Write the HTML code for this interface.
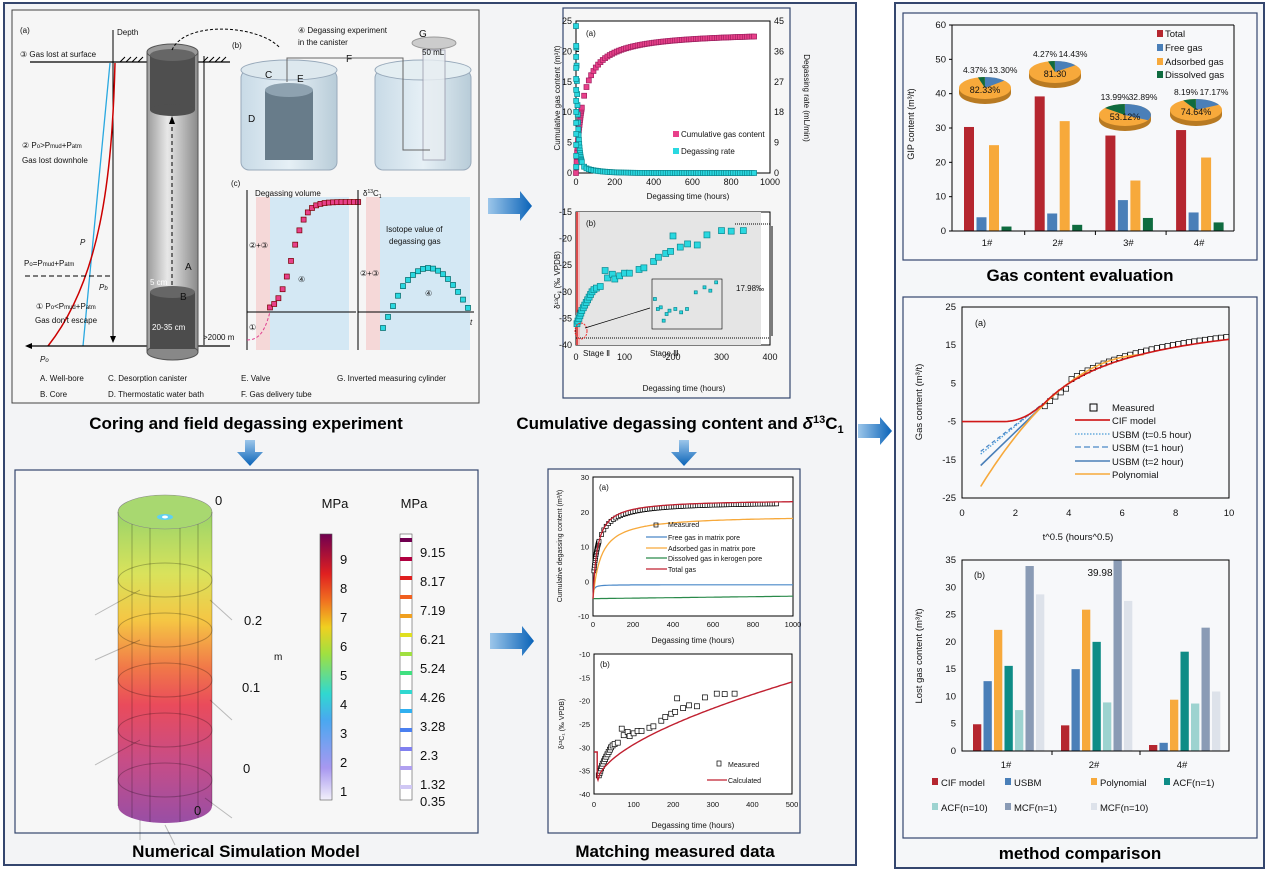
<!DOCTYPE html>
<html><head><meta charset="utf-8">
<style>
html,body{margin:0;padding:0;background:#fff;}
svg{display:block;font-family:"Liberation Sans",sans-serif;}
.t{font-size:10px;fill:#111;}
.s{font-size:8px;fill:#111;}
.ttl{font-size:17px;font-weight:bold;fill:#000;}
</style></head><body>
<svg id="g" width="1268" height="873" viewBox="0 0 1268 873" xmlns="http://www.w3.org/2000/svg">
<defs>
<linearGradient id="ba" x1="0" x2="1"><stop offset="0" stop-color="#9cc6ea"/><stop offset="1" stop-color="#0a63b8"/></linearGradient>
<linearGradient id="bd" x1="0" y1="0" x2="0" y2="1"><stop offset="0" stop-color="#9cc6ea"/><stop offset="1" stop-color="#0a63b8"/></linearGradient>
<linearGradient id="cyl" x1="0" y1="0" x2="0" y2="1">
<stop offset="0" stop-color="#8fd05a"/><stop offset="0.2" stop-color="#d6e04a"/><stop offset="0.35" stop-color="#f5c030"/><stop offset="0.5" stop-color="#f06a35"/><stop offset="0.62" stop-color="#e8384a"/><stop offset="0.8" stop-color="#c23a7a"/><stop offset="1" stop-color="#8e3c9c"/></linearGradient>
<linearGradient id="cb1" x1="0" y1="1" x2="0" y2="0">
<stop offset="0" stop-color="#f2f0fa"/><stop offset="0.12" stop-color="#a898f0"/><stop offset="0.3" stop-color="#4aa8f0"/><stop offset="0.4" stop-color="#30d8d0"/><stop offset="0.55" stop-color="#a0e040"/><stop offset="0.65" stop-color="#f0d020"/><stop offset="0.75" stop-color="#f07020"/><stop offset="0.85" stop-color="#e02020"/><stop offset="1" stop-color="#700050"/></linearGradient>
<linearGradient id="wb" x1="0" x2="1"><stop offset="0" stop-color="#9a9a9a"/><stop offset="0.4" stop-color="#e8e8e8"/><stop offset="1" stop-color="#8a8a8a"/></linearGradient>
<linearGradient id="bk" x1="0" x2="1"><stop offset="0" stop-color="#c8dae6"/><stop offset="0.5" stop-color="#e6f0f6"/><stop offset="1" stop-color="#b8ccd8"/></linearGradient>
</defs>

<rect x="4" y="3" width="852" height="862" fill="#f3f4f6" stroke="#34466e" stroke-width="2"/>
<rect x="895" y="3" width="369" height="865" fill="#f5f7f9" stroke="#34466e" stroke-width="2"/>

<rect x="12" y="10" width="467" height="393" fill="#f6f6f6" stroke="#444" stroke-width="1"/>
<rect x="563" y="8" width="227" height="390" fill="#f6f6f6" stroke="#34466e" stroke-width="1.2"/>
<rect x="15" y="470" width="463" height="363" fill="#f7f7f7" stroke="#34466e" stroke-width="1.2"/>
<rect x="548" y="469" width="252" height="364" fill="#f7f7f7" stroke="#34466e" stroke-width="1.2"/>
<rect x="903" y="13" width="354" height="247" fill="#f7f8fa" stroke="#34466e" stroke-width="1.2"/>
<rect x="903" y="297" width="354" height="541" fill="#f7f8fa" stroke="#34466e" stroke-width="1.2"/>

<text class="ttl" x="246" y="429" text-anchor="middle">Coring and field degassing experiment</text>
<text class="ttl" x="680" y="429" text-anchor="middle">Cumulative degassing content and <tspan font-style="italic">δ</tspan><tspan font-size="11" dy="-6">13</tspan><tspan dy="6">C</tspan><tspan font-size="11" dy="4">1</tspan></text>
<text class="ttl" x="246" y="857" text-anchor="middle">Numerical Simulation Model</text>
<text class="ttl" x="675" y="857" text-anchor="middle">Matching measured data</text>
<text class="ttl" x="1080" y="281" text-anchor="middle">Gas content evaluation</text>
<text class="ttl" x="1080" y="859" text-anchor="middle">method comparison</text>

<polygon points="488,198 520,198 520,191 532,206 520,221 520,214 488,214" fill="url(#ba)"/>
<polygon points="490,633 522,633 522,626 534,641 522,656 522,649 490,649" fill="url(#ba)"/>
<polygon points="858,424 880,424 880,417 892,431 880,445 880,438 858,438" fill="url(#ba)"/>
<polygon points="245,440 255,440 255,452 263,452 250,466 237,452 245,452" fill="url(#bd)"/>
<polygon points="679,440 689,440 689,452 697,452 684,466 671,452 679,452" fill="url(#bd)"/>

<g id="tl">
<text class="s" x="20" y="33">(a)</text>
<text class="s" x="117" y="35">Depth</text>
<line x1="113" y1="30" x2="113" y2="340" stroke="#000"/>
<polygon points="110,336 116,336 113,343" fill="#000"/>
<line x1="30" y1="62" x2="230" y2="62" stroke="#000" stroke-width="1.2"/>
<path d="M120,62 l5,-5 M126,62 l5,-5 M132,62 l5,-5 M138,62 l5,-5 M203,62 l5,-5 M209,62 l5,-5 M215,62 l5,-5 M221,62 l5,-5" stroke="#000"/>
<text class="s" x="20" y="57">③ Gas lost at surface</text>
<line x1="110" y1="63" x2="83" y2="346" stroke="#29a8e0" stroke-width="1.3"/>
<path d="M115,63 C112,180 100,280 48,346" stroke="#c00" stroke-width="1.5" fill="none"/>
<text class="s" x="22" y="148">② P<tspan font-size="6">o</tspan>&gt;P<tspan font-size="6">mud</tspan>+P<tspan font-size="6">atm</tspan></text>
<text class="s" x="22" y="163">Gas lost downhole</text>
<text class="s" x="80" y="245" font-style="italic">P</text>
<text class="s" x="99" y="290" font-style="italic">P<tspan font-size="6">b</tspan></text>
<text class="s" x="24" y="266">P<tspan font-size="6">o</tspan>=P<tspan font-size="6">mud</tspan>+P<tspan font-size="6">atm</tspan></text>
<line x1="25" y1="276" x2="113" y2="276" stroke="#000" stroke-dasharray="5,3"/>
<text class="s" x="36" y="309">① P<tspan font-size="6">o</tspan>&lt;P<tspan font-size="6">mud</tspan>+P<tspan font-size="6">atm</tspan></text>
<text class="s" x="35" y="323">Gas don't escape</text>
<line x1="28" y1="346" x2="230" y2="346" stroke="#000" stroke-width="1.2"/>
<polygon points="25,346 32,343 32,349" fill="#000"/>
<text class="s" x="40" y="362" font-style="italic">P<tspan font-size="6">o</tspan></text>
<rect x="147" y="52" width="51" height="300" fill="url(#wb)" stroke="#555"/>
<ellipse cx="172.5" cy="52" rx="25.5" ry="8" fill="#999" stroke="#555"/>
<ellipse cx="172.5" cy="352" rx="25.5" ry="8" fill="#888" stroke="#555"/>
<rect x="150" y="55" width="45" height="55" fill="#4f4f4f"/>
<ellipse cx="172.5" cy="110" rx="22.5" ry="6" fill="#4f4f4f"/>
<ellipse cx="172.5" cy="55" rx="22.5" ry="6" fill="#666"/>
<rect x="150" y="292" width="45" height="57" fill="#4c4c4c"/>
<ellipse cx="172.5" cy="292" rx="22.5" ry="6" fill="#666"/>
<line x1="172" y1="285" x2="172" y2="120" stroke="#000" stroke-dasharray="4,3"/>
<polygon points="169,124 175,124 172,116" fill="#000"/>
<text class="t" x="185" y="270">A</text>
<text class="t" x="180" y="300">B</text>
<text class="s" x="150" y="285" style="fill:#fff">5 cm</text>
<text class="s" x="152" y="330" style="fill:#fff">20-35 cm</text>
<line x1="204" y1="56" x2="204" y2="345" stroke="#000"/>
<text class="s" x="203" y="340">&gt;2000 m</text>
<path d="M172,50 C185,20 260,25 280,48" stroke="#000" fill="none" stroke-dasharray="3,2"/>
<text class="s" x="232" y="48">(b)</text>
<text class="s" x="298" y="33">④ Degassing experiment</text>
<text class="s" x="298" y="45">in the canister</text>
<rect x="241" y="70" width="96" height="100" rx="8" fill="url(#bk)" stroke="#9ab"/>
<ellipse cx="289" cy="70" rx="48" ry="10" fill="#dde8ee" stroke="#9ab"/>
<rect x="265" y="90" width="48" height="70" fill="#687c8a"/>
<ellipse cx="289" cy="90" rx="24" ry="7" fill="#8ea2b0"/>
<text class="t" x="265" y="78">C</text><text class="t" x="297" y="82">E</text>
<text class="t" x="248" y="122">D</text><text class="t" x="346" y="62">F</text>
<rect x="375" y="70" width="96" height="100" rx="8" fill="url(#bk)" stroke="#9ab"/>
<ellipse cx="423" cy="70" rx="48" ry="10" fill="#e4eef2" stroke="#9ab"/>
<rect x="423" y="50" width="22" height="110" fill="#e8eef2" stroke="#99a" opacity="0.8"/>
<ellipse cx="434" cy="43" rx="22" ry="6" fill="#ccc" stroke="#999"/>
<text class="t" x="419" y="37">G</text>
<text class="s" x="422" y="55" font-size="7">50 mL</text>
<path d="M287,82 V58 H403 V150 H430" stroke="#666" fill="none"/>
<text class="s" x="231" y="186">(c)</text>
<rect x="256" y="197" width="14" height="153" fill="#f5d8d8"/>
<rect x="270" y="197" width="79" height="153" fill="#d4e8f4"/>
<line x1="247" y1="190" x2="247" y2="350" stroke="#000"/>
<line x1="247" y1="312" x2="356" y2="312" stroke="#000"/>
<text class="s" x="255" y="196">Degassing volume</text>
<text class="s" x="249" y="248">②+③</text><text class="s" x="298" y="282">④</text><text class="s" x="249" y="330">①</text>
<path d="M247,340 C260,340 265,330 270,312" stroke="#e04090" fill="none" stroke-dasharray="3,2"/>
<g id="cs1"></g>
<rect x="366" y="197" width="14" height="153" fill="#f5d8d8"/>
<rect x="380" y="197" width="90" height="153" fill="#d4e8f4"/>
<line x1="358" y1="190" x2="358" y2="350" stroke="#000"/>
<line x1="358" y1="312" x2="474" y2="312" stroke="#000"/>
<text class="s" x="363" y="196">δ<tspan font-size="5" dy="-3">13</tspan><tspan dy="3">C</tspan><tspan font-size="5" dy="2">1</tspan></text>
<text class="s" x="386" y="232">Isotope value of</text>
<text class="s" x="389" y="244">degassing gas</text>
<text class="s" x="360" y="276">②+③</text><text class="s" x="425" y="296">④</text>
<text class="s" x="470" y="325" font-style="italic">t</text>
<g id="cs2"></g>
<text class="s" x="40" y="381">A. Well-bore</text><text class="s" x="108" y="381">C. Desorption canister</text><text class="s" x="241" y="381">E. Valve</text><text class="s" x="337" y="381">G. Inverted measuring cylinder</text>
<text class="s" x="40" y="397">B. Core</text><text class="s" x="108" y="397">D. Thermostatic water bath</text><text class="s" x="241" y="397">F. Gas delivery tube</text>
</g>

<g id="tm">
<rect x="576" y="21" width="194" height="152" fill="#fff" stroke="#000"/>
<text class="s" x="586" y="36">(a)</text>
<g id="tma"></g>
<rect x="673" y="131" width="6" height="6" fill="#e8408a"/><text class="s" x="681" y="137">Cumulative gas content</text>
<rect x="673" y="148" width="6" height="6" fill="#2ad8e0"/><text class="s" x="681" y="154">Degassing rate</text>
<text class="s" x="688" y="199" text-anchor="middle" font-size="9">Degassing time (hours)</text>
<text class="s" x="560" y="98" transform="rotate(-90 560 98)" text-anchor="middle" font-size="8">Cumulative gas content (m³/t)</text>
<text class="s" x="804" y="98" transform="rotate(90 804 98)" text-anchor="middle" font-size="8">Degassing rate (mL/min)</text>

<rect x="576" y="212" width="194" height="133" fill="#fff" stroke="#000"/>
<rect x="580" y="212" width="181" height="133" fill="#e5e5e5"/>
<rect x="576" y="212" width="4" height="133" fill="#f0c0c0"/>
<line x1="577" y1="212" x2="577" y2="345" stroke="#c00" stroke-width="1.2"/>
<text class="s" x="586" y="226">(b)</text>
<line x1="576" y1="338" x2="770" y2="338" stroke="#000" stroke-dasharray="1,1"/>
<line x1="735" y1="224" x2="770" y2="224" stroke="#000" stroke-dasharray="1,1"/>
<line x1="772" y1="226" x2="772" y2="336" stroke="#000"/>
<text class="s" x="736" y="291">17.98‰</text>
<rect x="646" y="277" width="80" height="56" fill="#e5e5e5"/>
<g id="tmb"></g>
<text class="s" x="583" y="356">Stage Ⅱ</text><text class="s" x="650" y="356">Stage Ⅲ</text>
<text class="s" x="684" y="391" text-anchor="middle" font-size="9">Degassing time (hours)</text>
<text class="s" x="560" y="280" transform="rotate(-90 560 280)" text-anchor="middle" font-size="8">δ¹³C₁ (‰ VPDB)</text>
</g>

<g id="bl">
<path d="M118,512 L118,806 A47,17 0 0 0 212,806 L212,512 Z" fill="url(#cyl)" opacity="0.9"/>
<ellipse cx="165" cy="512" rx="47" ry="17" fill="#a8d870" stroke="#888" stroke-width="0.6"/>
<ellipse cx="165" cy="517" rx="8" ry="3" fill="#60d0f0"/><ellipse cx="165" cy="517" rx="3" ry="1.5" fill="#fff"/>
<g stroke="#000" stroke-opacity="0.25" fill="none">
<line x1="118" y1="512" x2="118" y2="806"/><line x1="212" y1="512" x2="212" y2="806"/>
<line x1="132" y1="524" x2="132" y2="818"/><line x1="150" y1="528" x2="150" y2="822"/><line x1="180" y1="528" x2="180" y2="822"/><line x1="198" y1="524" x2="198" y2="818"/>
<ellipse cx="165" cy="580" rx="47" ry="17"/><ellipse cx="165" cy="630" rx="47" ry="17"/><ellipse cx="165" cy="680" rx="47" ry="17"/><ellipse cx="165" cy="730" rx="47" ry="17"/><ellipse cx="165" cy="780" rx="47" ry="17"/>
<line x1="95" y1="660" x2="140" y2="640"/><line x1="95" y1="765" x2="140" y2="740"/><line x1="95" y1="615" x2="140" y2="590"/>
<line x1="210" y1="600" x2="232" y2="620"/><line x1="210" y1="700" x2="232" y2="720"/><line x1="205" y1="798" x2="232" y2="818"/>
<line x1="140" y1="820" x2="140" y2="840"/><line x1="165" y1="825" x2="175" y2="845"/>
</g>
<text x="215" y="505" font-size="13" fill="#111">0</text>
<text x="244" y="625" font-size="13" fill="#111">0.2</text>
<text x="242" y="692" font-size="13" fill="#111">0.1</text>
<text x="243" y="773" font-size="13" fill="#111">0</text>
<text x="194" y="815" font-size="13" fill="#111">0</text>
<text x="274" y="660" font-size="10" fill="#111">m</text>
<text x="335" y="508" font-size="13" fill="#111" text-anchor="middle">MPa</text>
<text x="414" y="508" font-size="13" fill="#111" text-anchor="middle">MPa</text>
<rect x="320" y="534" width="12" height="266" fill="url(#cb1)" stroke="#555" stroke-width="0.6"/>
<g font-size="13" fill="#111">
<text x="340" y="564">9</text><text x="340" y="593">8</text><text x="340" y="622">7</text><text x="340" y="651">6</text><text x="340" y="680">5</text><text x="340" y="709">4</text><text x="340" y="738">3</text><text x="340" y="767">2</text><text x="340" y="796">1</text>
</g>
<rect x="400" y="534" width="12" height="266" fill="#fff" stroke="#555" stroke-width="0.6"/>
<g id="cb2"></g>
<g font-size="13" fill="#111">
<text x="420" y="557">9.15</text><text x="420" y="586">8.17</text><text x="420" y="615">7.19</text><text x="420" y="644">6.21</text><text x="420" y="673">5.24</text><text x="420" y="702">4.26</text><text x="420" y="731">3.28</text><text x="420" y="760">2.3</text><text x="420" y="789">1.32</text><text x="420" y="806">0.35</text>
</g>
</g>

<g id="bm">
<rect x="593" y="477" width="200" height="139" fill="#fff" stroke="#000"/>
<text class="s" x="599" y="490" font-size="7">(a)</text>
<g id="bma"></g>
<g font-size="7" fill="#111">
<rect x="654" y="523" width="4" height="4" fill="none" stroke="#000" stroke-width="0.7"/><text x="668" y="527">Measured</text>
<line x1="646" y1="537" x2="667" y2="537" stroke="#4a88c8" stroke-width="1.2"/><text x="668" y="540">Free gas in matrix pore</text>
<line x1="646" y1="548" x2="667" y2="548" stroke="#f7a93b" stroke-width="1.2"/><text x="668" y="551">Adsorbed gas in matrix pore</text>
<line x1="646" y1="558" x2="667" y2="558" stroke="#2a8a4a" stroke-width="1.2"/><text x="668" y="561">Dissolved gas in kerogen pore</text>
<line x1="646" y1="569" x2="667" y2="569" stroke="#c02030" stroke-width="1.2"/><text x="668" y="572">Total gas</text>
</g>
<text x="693" y="643" font-size="8" fill="#111" text-anchor="middle">Degassing time (hours)</text>
<text x="562" y="546" font-size="7" fill="#111" transform="rotate(-90 562 546)" text-anchor="middle">Cumulative degassing content (m³/t)</text>

<rect x="594" y="654" width="198" height="140" fill="#fff" stroke="#000"/>
<text class="s" x="600" y="667" font-size="7">(b)</text>
<g id="bmb"></g>
<rect x="717" y="761" width="4" height="5" fill="none" stroke="#000" stroke-width="0.7"/><text x="728" y="767" font-size="7" fill="#111">Measured</text>
<line x1="707" y1="780" x2="727" y2="780" stroke="#c02030" stroke-width="1.3"/><text x="728" y="783" font-size="7" fill="#111">Calculated</text>
<text x="693" y="828" font-size="8" fill="#111" text-anchor="middle">Degassing time (hours)</text>
<text x="564" y="724" font-size="7" fill="#111" transform="rotate(-90 564 724)" text-anchor="middle">δ¹³C₁ (‰ VPDB)</text>
</g>

<g id="rt">
<text x="914" y="124" font-size="9" fill="#111" transform="rotate(-90 914 124)" text-anchor="middle">GIP content (m³/t)</text>
<g id="rta"></g>
<line x1="952" y1="25" x2="952" y2="231" stroke="#000"/>
<line x1="952" y1="231" x2="1234" y2="231" stroke="#000"/>
<line x1="952" y1="25" x2="1234" y2="25" stroke="#000"/>
<line x1="1234" y1="25" x2="1234" y2="231" stroke="#000"/>
<g font-size="9.5" fill="#111">
<rect x="1157" y="30" width="6" height="7" fill="#b5262f"/><text x="1165" y="37">Total</text>
<rect x="1157" y="44" width="6" height="7" fill="#4a7fb8"/><text x="1165" y="51">Free gas</text>
<rect x="1157" y="58" width="6" height="7" fill="#f7a93b"/><text x="1165" y="65">Adsorbed gas</text>
<rect x="1157" y="71" width="6" height="7" fill="#0f6b3f"/><text x="1165" y="78">Dissolved gas</text>
</g>
</g>

<g id="rb">
<rect x="962" y="307" width="267" height="191" fill="none" stroke="#000"/>
<text x="975" y="326" font-size="9" fill="#111">(a)</text>
<g id="rba"></g>
<g font-size="9.5" fill="#111">
<rect x="1090" y="404" width="7" height="7" fill="none" stroke="#000"/><text x="1112" y="411">Measured</text>
<line x1="1075" y1="420" x2="1110" y2="420" stroke="#c00" stroke-width="1.5"/><text x="1112" y="424">CIF model</text>
<line x1="1075" y1="434" x2="1110" y2="434" stroke="#4a9ad8" stroke-width="1.3" stroke-dasharray="1.5,1.5"/><text x="1112" y="438">USBM (t=0.5 hour)</text>
<line x1="1075" y1="447" x2="1110" y2="447" stroke="#4a88c8" stroke-width="1.3" stroke-dasharray="6,3"/><text x="1112" y="451">USBM (t=1 hour)</text>
<line x1="1075" y1="461" x2="1110" y2="461" stroke="#4a7fb8" stroke-width="1.5"/><text x="1112" y="465">USBM (t=2 hour)</text>
<line x1="1075" y1="474" x2="1110" y2="474" stroke="#f7a93b" stroke-width="1.5"/><text x="1112" y="478">Polynomial</text>
</g>
<text x="1078" y="540" font-size="9.5" fill="#111" text-anchor="middle">t^0.5 (hours^0.5)</text>
<text x="922" y="402" font-size="9.5" fill="#111" transform="rotate(-90 922 402)" text-anchor="middle">Gas content (m³/t)</text>

<g id="rbb"></g>
<rect x="962" y="560" width="267" height="191" fill="none" stroke="#000"/>
<text x="974" y="578" font-size="9" fill="#111">(b)</text>
<text x="1100" y="576" font-size="10" fill="#111" text-anchor="middle">39.98</text>
<text x="922" y="656" font-size="9.5" fill="#111" transform="rotate(-90 922 656)" text-anchor="middle">Lost gas content  (m³/t)</text>
<g font-size="9.5" fill="#111">
<rect x="932" y="778" width="6" height="7" fill="#b5262f"/><text x="941" y="786">CIF model</text>
<rect x="1005" y="778" width="6" height="7" fill="#4a7fb8"/><text x="1014" y="786">USBM</text>
<rect x="1091" y="778" width="6" height="7" fill="#f7a93b"/><text x="1100" y="786">Polynomial</text>
<rect x="1164" y="778" width="6" height="7" fill="#0e8c86"/><text x="1173" y="786">ACF(n=1)</text>
<rect x="932" y="803" width="6" height="7" fill="#9dd3d0"/><text x="941" y="811">ACF(n=10)</text>
<rect x="1005" y="803" width="6" height="7" fill="#8a9bb5"/><text x="1014" y="811">MCF(n=1)</text>
<rect x="1091" y="803" width="6" height="7" fill="#dde2ea"/><text x="1100" y="811">MCF(n=10)</text>
</g>
</g>
</svg>
<script>
(function(){
var NS="http://www.w3.org/2000/svg";
function el(p,tag,a,txt){var e=document.createElementNS(NS,tag);for(var k in a)e.setAttribute(k,a[k]);if(txt!==undefined)e.textContent=txt;document.getElementById(p).appendChild(e);return e;}
function sq(p,x,y,s,fill,stroke){el(p,'rect',{x:x-s/2,y:y-s/2,width:s,height:s,fill:fill,stroke:stroke||'none','stroke-width':0.7});}
function poly(p,pts,st,w,dash){el(p,'polyline',{points:pts.map(function(q){return q[0].toFixed(1)+','+q[1].toFixed(1)}).join(' '),fill:'none',stroke:st,'stroke-width':w||1.3,'stroke-dasharray':dash||''});}
function txt(p,x,y,s,anchor,size){el(p,'text',{x:x,y:y,'font-size':size||9,fill:'#111','text-anchor':anchor||'middle'},s);}
for(var i=0;i<22;i++){var x=270+i*4.2;var y=312-110/(1+Math.exp(-(x-292)/7));sq('cs1',x,y,5,'#e8408a','#700');}
for(var i=0;i<18;i++){var x=383+i*5;var y=318-50*Math.sin(Math.min(Math.PI,(i)/20*Math.PI*1.1))+ (i<4?10:0)*(1-i/4);sq('cs2',x,y,5,'#2ad8e0','#066');}
var X=function(t){return 576+t/1000*194},Y=function(v){return 173-v/25*152};
for(var v=0;v<=25;v+=5){txt('tma',572,Y(v)+3,v,'end',9);el('tma','line',{x1:576,y1:Y(v),x2:579,y2:Y(v),stroke:'#000'});}
[0,9,18,27,36,45].forEach(function(r){var y=173-r/45*152;txt('tma',774,y+3,r,'start',9);});
for(var t=0;t<=1000;t+=200)txt('tma',X(t),185,t,'middle',9);
var ts=[];for(var t=0;t<30;t+=1.5)ts.push(t);for(var t=30;t<930;t+=12)ts.push(t);
ts.forEach(function(t){sq('tma',X(t),Y(23.3*t/(t+35)),5,'#e8408a','#a02060');});
ts.forEach(function(t){var r=41*Math.exp(-t/9)+2.5*Math.exp(-t/80);sq('tma',X(t),173-r/45*152,5,'#2ad8e0','#0a8890');});
for(var i=0;i<12;i++)sq('tma',X(1),Y(1)- i*11,5,'#2ad8e0','#0a8890');
var Xb=function(t){return 576+t/400*194},Yb=function(v){return 212+(-15-v)/25*133};
for(var v=-15;v>=-40;v-=5)txt('tmb',572,Yb(v)+3,v,'end',9);
for(var t=0;t<=400;t+=100)txt('tmb',Xb(t),360,t,'middle',9);
var bp=[[2,-36],[4,-35.5],[6,-35],[8,-34.5],[10,-34],[12,-33.5],[15,-33],[18,-32.5],[21,-32],[24,-31.5],[27,-31],[30,-30.5],[33,-30],[37,-29.6],[42,-29.3],[50,-29],[60,-26],[65,-27.4],[75,-26.7],[80,-27.6],[90,-27],[100,-26.5],[110,-26.5],[130,-25.8],[140,-25.5],[160,-24.3],[170,-23.5],[185,-22.8],[195,-22.4],[200,-19.5],[215,-21.6],[230,-21],[250,-21.2],[270,-19.3],[300,-18.5],[320,-18.6],[345,-18.5]];
bp.forEach(function(p){sq('tmb',Xb(p[0]),Yb(p[1]),6,'#2ad8e0','#0a8890');});
el('tmb','rect',{x:652,y:279,width:70,height:50,fill:'#e5e5e5',stroke:'#000','stroke-width':0.6});
[[0.5,-35.2],[1,-35.8],[1.5,-35.7],[2,-36.5],[2.5,-36.1],[3,-35.9],[4,-35.8],[5,-36],[6,-35.8],[7.5,-34.8],[9,-34.5],[10,-34.7],[11,-34.2]].forEach(function(p){sq('tmb',652+p[0]/12*70,279+(-34-p[1])/3*50,3,'#2ad8e0','#0a8890');});
el('tmb','ellipse',{cx:581,cy:331,rx:6,ry:8,fill:'none',stroke:'#e33','stroke-dasharray':'2,1'});
el('tmb','line',{x1:585,y1:328,x2:650,y2:308,stroke:'#000','stroke-width':0.7});
var cols=['#700050','#b00040','#e02020','#f06020','#f0a020','#e0e020','#a0e040','#40e080','#30d8d0','#30b0f0','#4a80f0','#8080f0','#b0a0f0','#d0c8f4'];
for(var i=0;i<14;i++){var y=538+i*19;el('cb2','rect',{x:400,y:y,width:12,height:4,fill:cols[i]});}
var Xa=function(t){return 593+t/1000*200},Ya=function(v){return 477+(30-v)/40*139};
for(var v=30;v>=-10;v-=10)txt('bma',589,Ya(v)+3,v,'end',7.5);
for(var t=0;t<=1000;t+=200)txt('bma',Xa(t),627,t,'middle',7.5);
ts.forEach(function(t){if(t>3&&t<940)sq('bma',Xa(t),Ya(23*t/(t+30)),4,'#fff','#000');});
function line(p,f,X,Y,st,w,t0,t1){var pts=[];for(var t=t0;t<=t1;t+=(t<30?1:10))pts.push([X(t),Y(f(t))]);poly(p,pts,st,w);}
line('bma',function(t){return -5+4*t/(t+3)},Xa,Ya,'#4a88c8',1.2,0,1000);
line('bma',function(t){return -5+0.7*t/1000},Xa,Ya,'#2a8a4a',1.2,0,1000);
line('bma',function(t){return -5+24*t/(t+40)},Xa,Ya,'#f7a93b',1.3,0,1000);
line('bma',function(t){return -5+28.5*t/(t+22)},Xa,Ya,'#c02030',1.3,0,1000);
var Xc=function(t){return 594+t/500*198},Yc=function(v){return 654+(-10-v)/30*140};
for(var v=-10;v>=-40;v-=5)txt('bmb',590,Yc(v)+3,v,'end',7.5);
for(var t=0;t<=500;t+=100)txt('bmb',Xc(t),807,t,'middle',7.5);
bp.forEach(function(p){sq('bmb',Xc(p[0]+10),Yc(p[1]),5,'#fff','#000');});
var cp=[[Xc(0),Yc(-31)],[Xc(8),Yc(-31)],[Xc(8),Yc(-36.5)]];for(var t=10;t<=500;t+=5)cp.push([Xc(t),Yc(-37+21*Math.pow((t-10)/490,0.6))]);
poly('bmb',cp,'#c02030',1.4);
var Yg=function(v){return 231-v/60*206};
for(var v=0;v<=60;v+=10){txt('rta',946,Yg(v)+3,v,'end',9.5);el('rta','line',{x1:949,y1:Yg(v),x2:952,y2:Yg(v),stroke:'#000'});}
var gv=[[30.3,4,25,1.3],[39.2,5.1,32,1.8],[27.8,9,14.7,3.8],[29.4,5.4,21.4,2.5]];
var gc=['#b5262f','#4a7fb8','#f7a93b','#0f6b3f'];
gv.forEach(function(g,i){var x0=964+i*70.7;g.forEach(function(v,j){el('rta','rect',{x:x0+j*12.5,y:Yg(v),width:10,height:231-Yg(v),fill:gc[j]});});txt('rta',x0+23,246,(i+1)+'#','middle',9.5);if(i)el('rta','line',{x1:x0-10,y1:231,x2:x0-10,y2:235,stroke:'#000'});});
var pies=[[985,88,'82.33%','4.37%','13.30%',0.133,0.044],[1055,72,'81.30','4.27%','14.43%',0.144,0.043],[1125,115,'53.12%','13.99%','32.89%',0.329,0.14],[1196,110,'74.64%','8.19%','17.17%',0.172,0.082]];
pies.forEach(function(p){var cx=p[0],cy=p[1],rx=26,ry=11;
el('rta','path',{d:'M'+(cx-rx)+','+cy+' v5 a'+rx+','+ry+' 0 0 0 '+(2*rx)+',0 v-5 Z',fill:'#b87a22'});
el('rta','ellipse',{cx:cx,cy:cy,rx:rx,ry:ry,fill:'#f7a93b'});
function pt(f){var a=-Math.PI/2+f*2*Math.PI;return (cx+rx*Math.cos(a)).toFixed(1)+','+(cy+ry*Math.sin(a)).toFixed(1);}
el('rta','path',{d:'M'+cx+','+cy+' L'+pt(0)+' A'+rx+','+ry+' 0 '+(p[5]>0.5?1:0)+' 1 '+pt(p[5])+' Z',fill:'#4a7fb8'});
el('rta','path',{d:'M'+cx+','+cy+' L'+pt(1-p[6])+' A'+rx+','+ry+' 0 0 1 '+pt(0.999)+' Z',fill:'#0f6b3f'});
txt('rta',cx,cy+5,p[2],'middle',9);txt('rta',cx-10,cy-15,p[3],'middle',8.5);txt('rta',cx+18,cy-15,p[4],'middle',8.5);});
var Xs=function(s){return 962+s/10*267},Ys=function(v){return 307+(25-v)/50*191};
for(var v=25;v>=-25;v-=10)txt('rba',956,Ys(v)+3,v,'end',9.5);
for(var s=0;s<=10;s+=2)txt('rba',Xs(s),516,s,'middle',9.5);
function meas(s){return -0.5+26*(s-3)/((s-3)+3.5);}
for(var s=3.1;s<=10;s+=0.2){sq('rba',Xs(s),Ys(meas(s)+(s<4?-1.2:0.4)),5,'#fff','#000');}
poly('rba',[[Xs(0.7),Ys(-13.5)],[Xs(3),Ys(-0.5)]],'#4a9ad8',1.3,'1.5,1.5');
poly('rba',[[Xs(0.7),Ys(-12.8)],[Xs(3),Ys(-0.5)]],'#4a88c8',1.3,'4,3');
poly('rba',[[Xs(0.7),Ys(-16.5)],[Xs(3.1),Ys(-0.3)]],'#4a7fb8',1.6);
var pr=[];for(var s=0.7;s<=6.8;s+=0.1)pr.push([Xs(s),Ys(-30.3+12.51*s-0.914*s*s)]);
poly('rba',pr,'#f7a93b',1.6);
var cf=[];for(var s=0;s<=10;s+=0.1){var v=s<3?-5+4.5*Math.pow(Math.max(0,s-1.5)/1.5,2.2):meas(s)-0.3;cf.push([Xs(s),Ys(v)]);}
poly('rba',cf,'#d01818',1.6);
var Yl=function(v){return 751-v/35*191};
for(var v=0;v<=35;v+=5)txt('rbb',956,Yl(v)+3,v,'end',9.5);
var lv=[[4.9,12.8,22.2,15.6,7.5,33.9,28.7],[4.7,15,25.9,20,8.9,35,27.5],[1.1,1.5,9.4,18.2,8.7,22.6,10.9]];
var lc=['#b5262f','#4a7fb8','#f7a93b','#0e8c86','#9dd3d0','#8a9bb5','#dde2ea'];
var lx=[973,1061,1149];
lv.forEach(function(g,i){g.forEach(function(v,j){el('rbb','rect',{x:lx[i]+j*10.5,y:Yl(v),width:8.3,height:751-Yl(v),fill:lc[j]});});txt('rbb',lx[i]+33,768,['1#','2#','4#'][i],'middle',9.5);});
[1052,1140].forEach(function(x){el('rbb','line',{x1:x,y1:751,x2:x,y2:755,stroke:'#000'});});
})();
</script>
</body></html>
